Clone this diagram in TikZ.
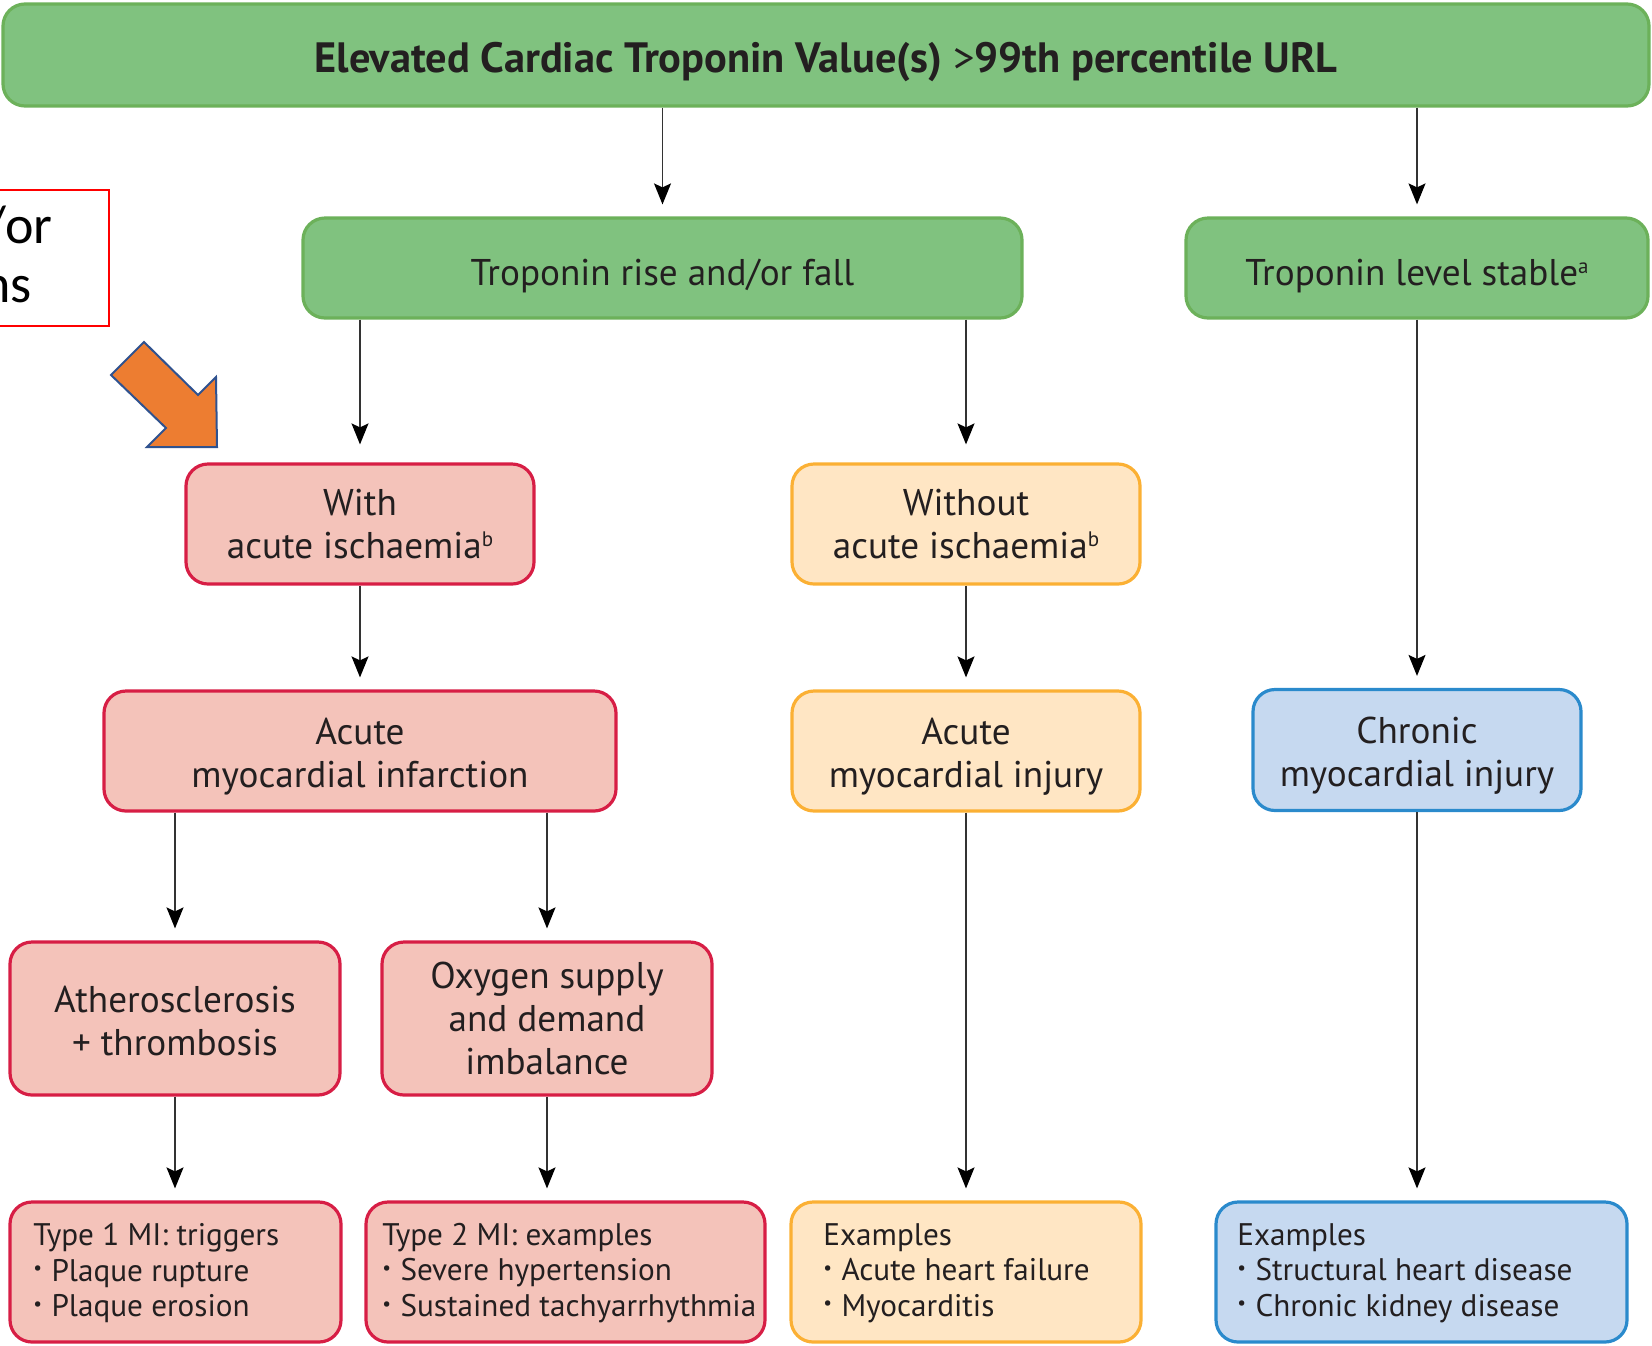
\documentclass[tikz,border=0pt]{standalone}
\usepackage{fontspec}
\usepackage{graphicx}
\setmainfont{PT Sans}
\newfontfamily\calibrifont{Carlito}
\usetikzlibrary{arrows.meta}

\definecolor{ink}{HTML}{231F20}
\definecolor{grnfill}{HTML}{80C27F}
\definecolor{grnline}{HTML}{6CB15A}
\definecolor{redfill}{HTML}{F4C3BA}
\definecolor{redline}{HTML}{D71E45}
\definecolor{orgfill}{HTML}{FFE6C4}
\definecolor{orgline}{HTML}{FBB034}
\definecolor{bluefill}{HTML}{C6D9F0}
\definecolor{blueline}{HTML}{2A8ACC}
\definecolor{flowline}{HTML}{333333}
\definecolor{pointerfill}{HTML}{ED7D31}
\definecolor{pointerline}{HTML}{2F528F}

% small list bullet
\newcommand\bul{\raisebox{0.2em}{\scalebox{0.62}{•}}\hspace{0.3em}}
% small raised footnote letter
\newcommand\fnmark[1]{\raisebox{0.32em}{\fontsize{10.5}{10.5}\selectfont #1}}
% invisible strut that pushes a text block slightly down
\newcommand\dropby[1]{\rule{0pt}{#1}}

\begin{document}
\begin{tikzpicture}[x=0.5pt,y=-0.5pt,
  box/.style={draw, rounded corners=11pt, line width=1.6pt, text=ink,
    align=center, inner sep=0pt, font=\fontsize{18.6}{21.6}\selectfont},
  greenbox/.style={box, draw=grnline, fill=grnfill},
  redbox/.style={box, draw=redline, fill=redfill},
  orgbox/.style={box, draw=orgline, fill=orgfill},
  bluebox/.style={box, draw=blueline, fill=bluefill},
  oneline/.style={text height=18pt, text depth=1pt},
  sz/.style 2 args={minimum width=#1*0.5pt, minimum height=#2*0.5pt},
  listtext/.style={anchor=west, align=left, inner sep=0pt, text=ink,
    font=\fontsize{15.6}{17.7}\selectfont},
  flow/.style={draw=flowline, line width=0.7pt,
    -{Stealth[length=10.5pt,width=8.5pt,inset=2pt,color=black]}, shorten >=6pt},
  calltext/.style={anchor=base east, inner sep=0pt, text=black,
    font=\calibrifont\fontsize{27}{31}\selectfont}
]
\useasboundingbox (0,0) rectangle (1652,1345);
\clip (0,0) rectangle (1652,1345);

% top level
\node[greenbox, oneline, sz={1646}{102}, font=\bfseries\fontsize{21.2}{24}\selectfont] (top) at (826,55)
  {Elevated Cardiac Troponin Value(s) {\mdseries>}99th percentile URL};

% second level
\node[greenbox, oneline, sz={719}{100}] (rise) at (662.5,268) {Troponin rise and/or fall};
\node[greenbox, oneline, sz={462}{100}] (stable) at (1417,268) {Troponin level stable\fnmark{a}};

% ischaemia
\node[redbox, sz={348}{120}] (with) at (360,524) {With\\acute ischaemia\fnmark{b}};
\node[orgbox, sz={348}{120}] (without) at (966,524) {Without\\acute ischaemia\fnmark{b}};

% diagnoses
\node[redbox, sz={512}{120}] (ami) at (360,751) {\dropby{19pt}Acute\\myocardial infarction};
\node[orgbox, sz={348}{120}] (ainj) at (966,751) {\dropby{19pt}Acute\\myocardial injury};
\node[bluebox, sz={328}{121}] (cinj) at (1417,750) {\dropby{19pt}Chronic\\myocardial injury};

% mechanisms
\node[redbox, sz={330}{153}] (ath) at (175,1018.5) {\dropby{16pt}Atherosclerosis\\+ thrombosis};
\node[redbox, sz={330}{153}] (oxy) at (547,1018.5) {Oxygen supply\\and demand\\imbalance};

% example boxes
\node[redbox, sz={331}{140}] (t1) at (175.5,1272) {};
\node[redbox, sz={399}{140}] (t2) at (565.5,1272) {};
\node[orgbox, sz={350}{140}] (ex1) at (966,1272) {};
\node[bluebox, sz={411}{140}] (ex2) at (1421.5,1272) {};

\node[listtext] (t1txt) at (33,1273) {Type 1 MI: triggers\\\bul Plaque rupture\\\bul Plaque erosion};
\node[listtext] (t2txt) at (382,1273) {Type 2 MI: examples\\\bul Severe hypertension\\\bul Sustained tachyarrhythmia};
\node[listtext] (ex1txt) at (823,1273) {Examples\\\bul Acute heart failure\\\bul Myocarditis};
\node[listtext] (ex2txt) at (1237,1273) {Examples\\\bul Structural heart disease\\\bul Chronic kidney disease};

% connectors
\draw[flow] (rise.north |- top.south) -- (rise.north);
\draw[flow] (stable.north |- top.south) -- (stable.north);
\draw[flow, shorten >=9pt] (with.north |- rise.south) -- (with.north);
\draw[flow, shorten >=9pt] (without.north |- rise.south) -- (without.north);
\draw[flow] (stable.south) -- (cinj.north);
\draw[flow] (with.south) -- (ami.north);
\draw[flow] (without.south) -- (ainj.north);
\draw[flow] (ath.north |- ami.south) -- (ath.north);
\draw[flow] (oxy.north |- ami.south) -- (oxy.north);
\draw[flow] (ath.south) -- (ath.south |- t1.north);
\draw[flow] (oxy.south) -- (oxy.south |- t2.north);
\draw[flow] (ainj.south) -- (ex1.north);
\draw[flow] (cinj.south) -- (cinj.south |- ex2.north);

% red call-out box at the left edge
\node[draw=red, line width=1pt, anchor=north east, inner sep=0pt,
  minimum width=150*0.5pt, minimum height=136*0.5pt] (callout) at (110,189) {};
\node[calltext] (callA) at (53,243) {/or};
\node[calltext] (callB) at (32,302) {ns};

% orange block pointer
\draw[fill=pointerfill, draw=pointerline, line width=1pt, line join=miter]
  (144,342) -- (111,375) -- (166,428) -- (147,447) -- (217,447) -- (216,377) -- (198,395) -- cycle;
\end{tikzpicture}
\end{document}
